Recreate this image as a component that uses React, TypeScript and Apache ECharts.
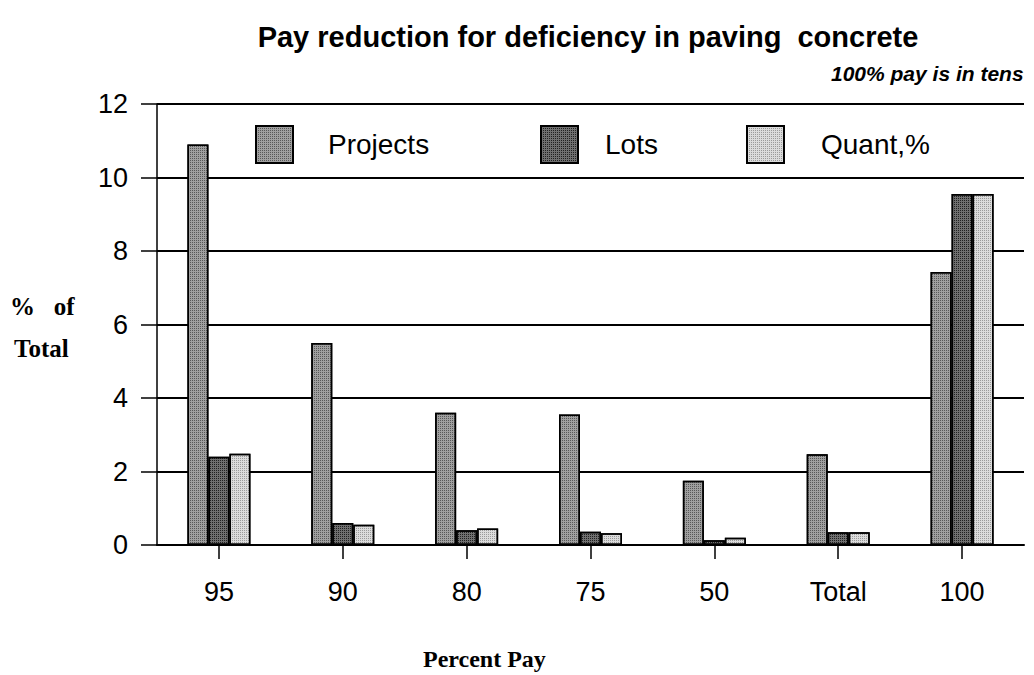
import React, { useEffect, useRef } from "react";
import * as echarts from "echarts";

const categories = ["95", "90", "80", "75", "50", "Total", "100"];
const projects = [10.9, 5.5, 3.6, 3.55, 1.75, 2.47, 7.43];
const lots = [2.4, 0.6, 0.4, 0.36, 0.13, 0.35, 9.55];
const quant = [2.48, 0.55, 0.45, 0.32, 0.2, 0.35, 9.55];
const yTicks = { min: 0, max: 12, interval: 2 };

export default function App() {
  const ref = useRef<HTMLDivElement>(null);
  useEffect(() => {
    const chart = echarts.init(ref.current!, null, { renderer: "svg" });
    const mk = (name: string, data: number[], color: string, decalColor: string) => ({
      name,
      type: "bar",
      data,
      barWidth: 21,
      barGap: "0%",
      itemStyle: {
        color,
        borderColor: "#000",
        borderWidth: 1.5,
        decal: {
          symbol: "rect",
          symbolSize: 1,
          color: decalColor,
          dashArrayX: [1, 1],
          dashArrayY: [1, 1],
          rotation: 0,
        },
      },
    });
    const legendText = (pad: number) => ({
      fontFamily: "Liberation Sans, Arial, sans-serif",
      fontSize: 28,
      color: "#000",
      padding: [0, 0, 0, pad],
    });
    const serif = "bold 25px 'Liberation Serif', 'Times New Roman', serif";
    chart.setOption({
      animation: false,
      backgroundColor: "#fff",
      aria: { enabled: false, decal: { show: true } },
      title: [
        {
          text: "Pay reduction for deficiency in paving  concrete",
          left: 583,
          textAlign: "center",
          top: 17,
          textStyle: {
            fontFamily: "Liberation Sans, Arial, sans-serif",
            fontSize: 29,
            fontWeight: "bold",
            color: "#000",
          },
        },
        {
          text: "100% pay is in tens",
          left: 826,
          top: 58,
          textStyle: {
            fontFamily: "Liberation Sans, Arial, sans-serif",
            fontSize: 21,
            fontWeight: "bold",
            fontStyle: "italic",
            color: "#000",
          },
        },
      ],
      legend: [
        { data: ["Projects"], left: 250, top: 120, icon: "rect", itemWidth: 37, itemHeight: 37, textStyle: legendText(30) },
        { data: ["Lots"], left: 535, top: 120, icon: "rect", itemWidth: 37, itemHeight: 37, textStyle: legendText(22) },
        { data: ["Quant,%"], left: 741, top: 120, icon: "rect", itemWidth: 37, itemHeight: 37, textStyle: legendText(32) },
      ],
      graphic: [
        {
          type: "text",
          left: 10,
          top: 294,
          style: { text: "%   of", font: serif, fill: "#000" },
        },
        {
          type: "text",
          left: 14,
          top: 336,
          style: { text: "Total", font: serif, fill: "#000" },
        },
        {
          type: "text",
          left: 423,
          top: 647,
          style: { text: "Percent Pay", font: "bold 24px 'Liberation Serif', 'Times New Roman', serif", fill: "#000" },
        },
      ],
      grid: { left: 157, right: 10, top: 104, bottom: 130, containLabel: false },
      xAxis: {
        type: "category",
        data: categories,
        axisLine: { lineStyle: { color: "#000", width: 2 } },
        axisTick: { show: true, alignWithLabel: true, length: 14, lineStyle: { color: "#000", width: 1.5 } },
        axisLabel: {
          margin: 33,
          fontSize: 27,
          color: "#000",
          fontFamily: "Liberation Sans, Arial, sans-serif",
        },
      },
      yAxis: {
        type: "value",
        min: yTicks.min,
        max: yTicks.max,
        interval: yTicks.interval,
        axisLine: { show: true, lineStyle: { color: "#000", width: 1.5 } },
        axisTick: { show: true, length: 16, lineStyle: { color: "#000", width: 1.5 } },
        axisLabel: {
          margin: 29,
          fontSize: 27,
          color: "#000",
          fontFamily: "Liberation Sans, Arial, sans-serif",
        },
        splitLine: { show: true, lineStyle: { color: "#000", width: 2 } },
      },
      series: [
        mk("Projects", projects, "#a0a0a0", "rgba(40,40,40,0.6)"),
        mk("Lots", lots, "#707070", "rgba(0,0,0,0.7)"),
        mk("Quant,%", quant, "#dcdcdc", "rgba(90,90,90,0.5)"),
      ],
    });
    return () => chart.dispose();
  }, []);
  return (
    <div
      ref={ref}
      style={{ position: "fixed", left: 0, top: 0, width: 1034, height: 675, background: "#fff" }}
    />
  );
}
